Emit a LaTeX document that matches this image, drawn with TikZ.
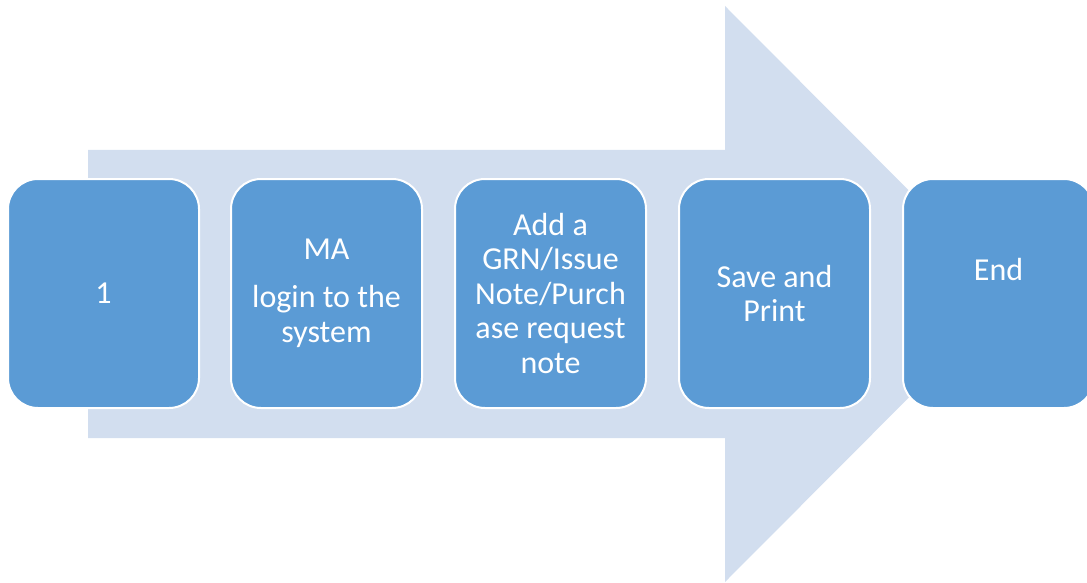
\documentclass[tikz,border=0pt]{standalone}
\usepackage{fontspec}
\setmainfont{Carlito}
\definecolor{boxblue}{HTML}{5B9BD5}
\definecolor{arrowblue}{HTML}{D2DEEF}
\begin{document}
\begin{tikzpicture}[x=1pt,y=-1pt,
  stepbox/.style={draw=white, line width=2pt, fill=boxblue, rounded corners=30pt,
    minimum width=191pt, minimum height=229pt, inner sep=0pt, align=center,
    text=white, font=\fontsize{32}{34.5}\selectfont}]
\clip (0,0) rectangle (1087,583);
\fill[arrowblue] (88,150) -- (725,150) -- (725,6) -- (1012,294) -- (725,582) -- (725,438) -- (88,438) -- cycle;
\node[stepbox] (b1) at (103.5,293.5) {1};
\node[stepbox] (b2) at (326.5,293.5) {MA\\[13.5pt]login to the\\system};
\node[stepbox] (b3) at (550.5,293.5) {Add a\\GRN/Issue\\Note/Purch\\ase request\\note};
\node[stepbox] (b4) at (774.5,293.5) {Save and\\Print};
\node[stepbox] (b5) at (998.5,293.5) {End\\[13.5pt]\phantom{End}};
\end{tikzpicture}
\end{document}
